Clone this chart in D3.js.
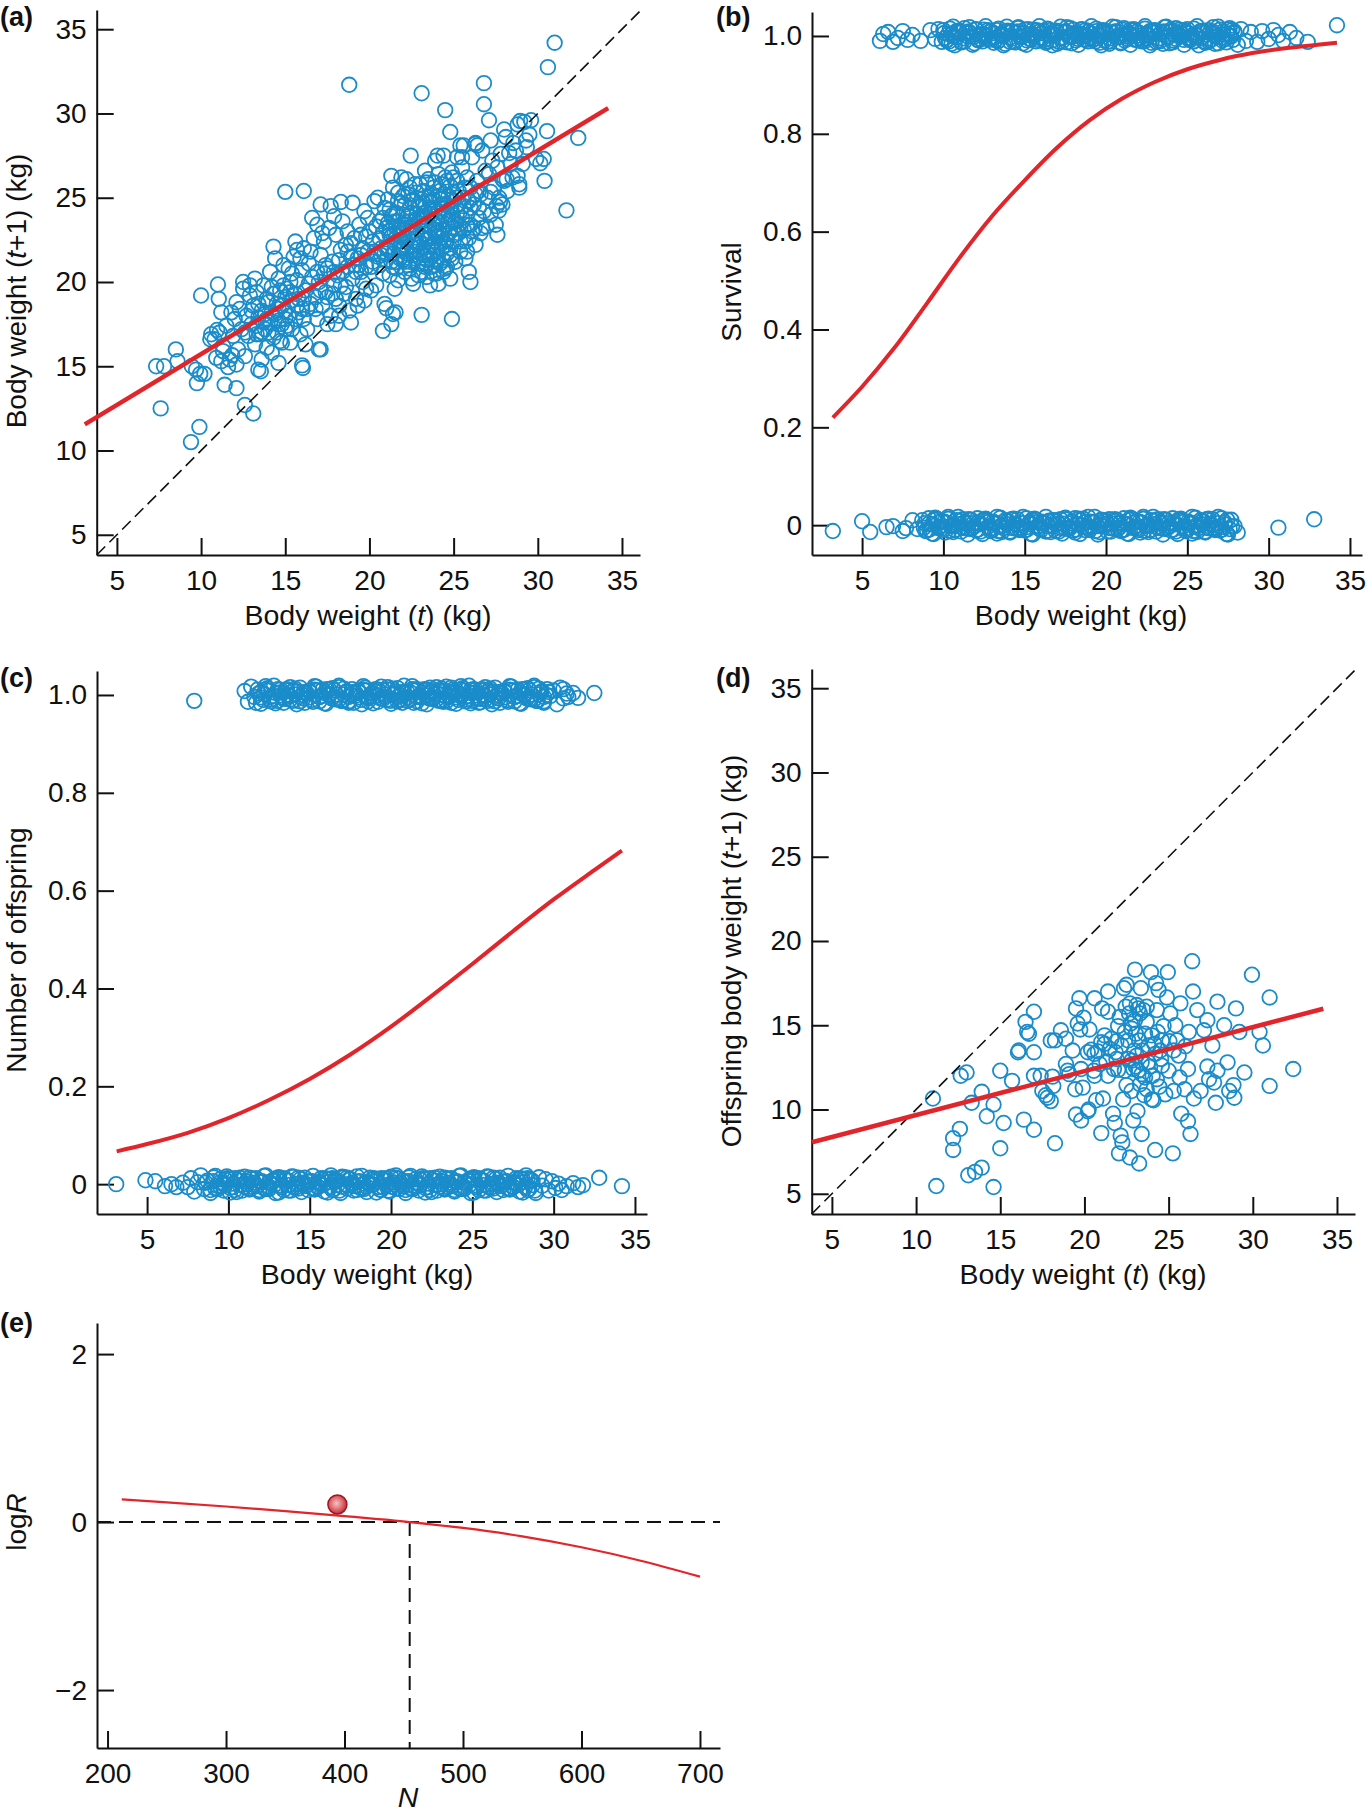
<!DOCTYPE html>
<html><head><meta charset="utf-8">
<script src="https://cdn.jsdelivr.net/npm/d3@7"></script>
<style>
body{margin:0;background:#fff;}
svg text{font-family:"Liberation Sans",Arial,Helvetica,sans-serif;fill:#111;}
.tick text{font-size:28px;}
</style></head><body>
<script>
// ---------------- DATA ----------------
// (a) body weight t vs t+1
const growthPts = [
[7.33,15.0],[7.8,15.0],[7.6,12.5],[8.5,16.0],[8.6,15.3],[9.4,10.5],[9.9,11.4],[9.45,15.0],[9.7,14.8],[9.95,14.55],[10.2,14.55],[9.75,14.0],[10.0,19.2],[11.0,19.85],[11.05,19.0],[11.2,18.2],[11.4,13.9],[12.1,13.7],[12.6,12.7],[13.1,12.2],[10.55,16.6],[10.95,17.15],[11.3,15.9],[11.6,14.95],[11.85,15.65],[12.5,20.0],[12.1,18.8],[12.9,19.8],[13.4,14.8],[13.55,14.7],[14.3,22.1],[14.6,15.2],[15.0,25.35],[15.7,21.9],[16.1,25.4],[16.0,15.05],[16.05,14.9],[16.6,23.8],[16.9,23.4],[17.0,16.0],[17.1,24.6],[17.1,16.0],[17.7,24.5],[18.3,24.75],[19.0,24.7],[18.8,31.7],[18.0,17.5],[18.2,18.0],[18.9,17.6],[19.7,18.9],[20.9,18.7],[21.0,18.45],[20.8,17.1],[21.3,17.5],[21.4,18.1],[21.55,18.2],[23.1,31.2],[23.1,18.05],[24.5,30.2],[24.9,17.8],[24.8,28.9],[24.05,27.5],[22.45,27.5],[26.0,20.0],[25.8,21.8],[26.25,23.2],[26.8,31.8],[26.8,30.55],[27.1,29.6],[26.3,28.25],[26.4,28.1],[25.4,28.1],[25.5,27.4],[26.95,23.3],[28.0,29.05],[28.8,29.35],[28.95,29.55],[29.2,29.5],[29.6,29.6],[29.5,28.75],[29.35,28.0],[29.9,27.3],[30.15,27.05],[30.35,27.3],[30.55,28.95],[30.4,26.0],[30.6,32.75],[31.0,34.2],[31.7,24.25],[32.4,28.55],[28.55,28.25],[28.3,27.65],[28.8,26.3],[28.9,25.6],[27.75,24.75],[27.7,24.25],[27.55,24.5],[27.9,26.1],[28.15,26.1],[27.2,25.35],
[10.8,16.6],[11.1,17.0],[11.3,16.2],[11.5,17.4],[11.7,15.4],[11.9,16.8],[12.0,17.8],[12.2,16.0],[12.3,18.4],[12.4,17.2],[12.6,15.6],[12.7,18.0],[12.8,16.8],[12.9,19.2],[10.6,16.9],[11.2,15.3],[11.8,18.2],[12.5,19.6],[12.1,15.1],[10.9,15.5],
[13.0,17.5],[13.1,18.6],[13.2,16.3],[13.3,19.4],[13.4,17.9],[13.5,16.9],[13.6,18.3],[13.7,19.8],[13.8,17.2],[13.9,16.1],[14.0,18.8],[14.1,20.6],[14.1,17.6],[14.2,15.8],[14.3,19.3],[14.4,18.1],[14.5,17.0],[14.6,20.2],[14.7,16.5],[14.8,18.6],[14.9,21.0],[13.2,20.2],[13.6,15.4],[14.4,21.4],[13.9,19.0],[14.7,19.5],[13.4,18.7],[14.2,18.2],[14.6,17.7],[13.8,18.1],
[15.0,18.3],[15.1,19.6],[15.1,17.4],[15.2,20.8],[15.3,16.4],[15.4,18.9],[15.5,21.5],[15.6,17.8],[15.7,20.1],[15.8,19.0],[15.9,16.9],[16.0,20.7],[16.0,18.4],[16.1,22.0],[16.2,19.5],[16.3,17.2],[16.4,21.1],[16.5,18.7],[16.6,20.3],[16.7,22.6],[16.8,19.1],[16.9,17.8],[15.3,20.0],[15.6,22.4],[16.2,16.3],[16.5,21.8],[15.0,19.1],[15.8,18.2],
[17.0,20.0],[17.1,21.6],[17.2,18.6],[17.3,22.4],[17.4,19.4],[17.5,20.8],[17.6,23.2],[17.7,18.0],[17.8,21.2],[17.9,19.8],[18.0,22.8],[18.1,20.4],[18.2,18.6],[18.3,21.9],[18.4,23.6],[18.5,19.3],[18.6,22.2],[18.7,20.9],[18.8,18.3],[18.9,21.5],[17.2,22.9],[17.5,17.5],[18.0,19.0],[18.4,20.6],[17.9,23.9],[18.7,23.0],[17.3,20.5],[18.2,21.3],
[19.0,20.2],[19.1,22.6],[19.2,19.0],[19.3,21.4],[19.4,23.4],[19.5,20.6],[19.6,22.0],[19.7,24.2],[19.8,19.6],[19.9,21.8],[20.0,23.0],[20.1,20.9],[20.2,22.4],[20.3,24.8],[20.4,19.8],[20.5,21.5],[20.6,23.6],[20.7,22.0],[20.8,20.5],[20.9,24.4],[19.3,18.6],[19.9,23.8],[20.5,25.0],[19.5,22.8],[20.2,21.2],[20.8,22.9],[19.8,20.9],[20.4,23.3],
[21.0,21.3],[21.0,23.2],[21.1,22.1],[21.2,24.3],[21.2,20.4],[21.3,22.7],[21.4,21.7],[21.4,25.6],[21.5,23.6],[21.6,20.8],[21.6,22.4],[21.7,24.8],[21.8,21.4],[21.8,23.1],[21.9,26.2],[22.0,22.0],[22.0,24.0],[22.1,20.6],[22.1,23.4],[22.2,21.7],[22.3,25.2],[22.3,22.6],[22.4,24.4],[22.5,20.2],[22.5,23.0],[22.6,21.6],[22.7,25.8],[22.7,22.4],[22.8,24.0],[22.9,21.1],[22.9,23.5],[21.3,26.3],[21.5,19.6],[22.2,26.1],[22.6,19.9],[21.9,24.7],[22.4,21.2],[21.1,24.9],
[23.0,22.3],[23.0,24.5],[23.1,20.6],[23.1,23.3],[23.2,21.6],[23.2,25.4],[23.3,22.8],[23.3,24.1],[23.4,20.3],[23.4,23.8],[23.5,21.9],[23.5,26.1],[23.6,22.6],[23.6,24.7],[23.7,20.9],[23.7,23.2],[23.8,25.6],[23.8,21.6],[23.9,22.9],[23.9,24.3],[24.0,20.5],[24.0,23.6],[24.1,26.4],[24.1,22.2],[24.2,24.9],[24.2,21.1],[24.3,23.1],[24.3,25.8],[24.4,22.4],[24.4,24.0],[24.5,20.8],[24.5,26.2],[24.6,23.4],[24.6,21.7],[24.7,25.1],[24.7,22.9],[24.8,24.4],[24.8,20.2],[24.9,23.7],[24.9,26.5],[23.3,26.6],[23.6,19.8],[24.1,19.9],[23.9,27.2],[24.4,27.5],[23.2,22.0],[23.8,23.5],[24.6,24.6],[24.3,22.0],[23.5,25.0],
[25.0,22.4],[25.0,24.8],[25.1,21.2],[25.1,23.6],[25.2,26.0],[25.3,22.9],[25.3,25.4],[25.4,21.8],[25.4,24.2],[25.5,26.8],[25.6,23.1],[25.6,25.0],[25.7,21.4],[25.8,24.0],[25.8,26.2],[25.9,22.6],[26.0,25.6],[26.0,23.4],[26.1,27.4],[26.2,24.6],[26.3,22.2],[26.4,26.0],[26.5,23.8],[26.6,25.2],[26.7,27.8],[26.8,24.2],[26.9,26.6],[25.2,27.4],[25.6,28.1],[26.3,28.2],[25.9,20.6],[26.6,22.9],
[27.0,25.0],[27.1,26.4],[27.2,24.0],[27.3,27.2],[27.4,25.6],[27.5,23.4],[27.6,26.8],[27.7,25.0],[27.8,27.6],[27.9,24.6],[28.0,26.0],[28.2,25.4],[28.4,27.0],[28.5,26.2],[28.7,27.8],[28.9,25.8],[29.1,27.0],[29.3,28.4],[27.2,28.4],[27.6,22.8],[28.1,28.6],
[21.1,21.9],[21.3,23.9],[21.5,22.3],[21.7,20.1],[21.9,22.9],[22.1,24.6],[22.3,21.0],[22.5,22.1],[22.7,23.7],[22.9,20.4],[23.0,25.8],[23.2,23.9],[23.4,21.3],[23.6,23.0],[23.8,20.5],[24.0,22.7],[24.2,25.4],[24.4,20.6],[24.6,22.5],[24.8,25.7],[24.9,21.4],[25.1,22.8],[25.3,24.6],[25.5,23.8],[25.7,22.4],[25.9,24.8],[26.1,23.0],[26.3,25.2],[26.5,24.4],[26.7,23.2],[22.0,23.1],[22.8,22.9],[23.7,22.2],[24.5,23.9],[23.1,24.9],[22.4,23.6],[23.9,21.0],[24.8,22.0],[21.6,21.2],[20.6,21.0],[20.1,19.5],[19.4,21.0],[18.6,19.7],[17.8,19.3],[16.9,20.6],[16.1,19.0],[15.4,17.2],[14.8,16.4],[14.0,17.0],[13.3,16.9],[15.9,21.4],[17.4,21.0],[18.9,22.3],[19.6,20.0],[20.9,21.7],[21.7,25.3],[22.6,24.9],[23.3,20.9],[24.1,24.2],[25.0,26.2],
[21.2,22.8],[21.4,24.0],[21.6,23.3],[21.8,22.0],[22.0,21.3],[22.2,22.4],[22.4,25.6],[22.6,23.4],[22.8,21.8],[23.0,23.8],[23.2,24.7],[23.4,22.5],[23.6,21.4],[23.8,24.9],[24.0,21.9],[24.2,23.5],[24.4,25.2],[24.6,20.9],[24.8,23.0],[25.0,25.3],[23.3,23.4],[23.7,24.0],[24.1,23.0],[22.5,24.1],[23.9,25.9],[24.7,24.0],[25.2,24.1],[23.4,21.0],[22.1,22.2],[24.4,21.3],
[14.5,18.7],[14.9,19.8],[15.2,18.0],[15.6,19.3],[14.2,19.7],[15.0,17.2],[13.7,17.6],[16.3,18.4],[15.4,20.5],[14.8,17.5],
[20.6,22.6],[20.8,23.8],[21.0,22.0],[21.2,23.0],[21.4,20.9],[21.6,24.1],[21.8,22.7],[22.0,25.1],[22.2,23.2],[22.4,20.8],[22.6,22.8],[22.8,25.3],[23.0,21.7],[23.2,23.7],[23.4,25.9],[23.6,22.1],[23.8,24.4],[24.0,21.2],[24.2,22.6],[24.4,24.6],[24.6,26.0],[24.8,21.6],[25.0,23.2],[25.2,25.0],[25.4,22.4],[25.6,24.5],[25.8,23.4],[26.0,24.4],[23.1,22.7],[23.5,24.3],[23.9,23.1],[24.3,24.4],[24.7,23.6],[22.3,23.9],[22.7,21.4],[21.5,22.9],[21.9,21.9],[23.7,25.2],[24.9,24.9],[22.9,24.6],
[20.7,21.6],[21.1,23.5],[21.3,21.2],[21.7,23.6],[22.1,21.2],[22.5,24.8],[22.9,22.2],[23.3,21.6],[23.5,23.3],[23.9,22.4],[24.1,25.1],[24.5,22.2],[24.9,24.2],[25.3,23.4],[25.7,25.6],[26.1,25.0],[26.5,25.4],[20.3,21.8],[19.8,22.7],[19.2,20.6],
[12.6,17.0],[13.0,18.3],[13.3,17.4],[13.6,17.0],[13.9,17.8],[14.3,16.7],[14.6,18.4],[15.0,17.8],[15.3,19.4],[15.7,18.6],[16.1,17.8],[16.4,19.9],[16.8,18.4],[17.1,19.5],[17.5,19.1],[17.9,20.6],[18.3,19.8],[18.7,21.8],[19.1,21.0],[19.5,21.6]
];
const growthFitX = [3.09, 34.18];
const growthFitY = [11.55, 30.32];

// (b) survival: [body weight, offset from 0/1]
const survTop = [
[6.1,-0.01],[6.3,0.004],[6.6,0.008],[6.9,-0.012],[7.2,-0.004],[7.5,0.01],[7.8,-0.008],[8.1,0.002],[8.6,-0.01],[9.2,0.012],[9.5,-0.006],[9.7,0.014],[9.9,-0.012],
[10.0,0.012],[10.2,-0.009],[10.3,0.004],[10.5,-0.016],[10.6,0.019],[10.8,-0.003],[11.0,0.009],[11.1,-0.013],[11.3,0.016],[11.5,-0.001],[11.6,0.006],[11.8,-0.018],[12.0,0.014],[12.1,-0.007],[12.3,0.001],[12.4,-0.011],[12.6,0.02],[12.8,-0.005],[12.9,0.01],[13.1,-0.014],
[13.3,0.012],[13.4,-0.009],[13.6,0.004],[13.8,-0.016],[13.9,0.019],[14.1,-0.003],[14.2,0.009],[14.4,-0.013],[14.6,0.016],[14.7,-0.001],[14.9,0.006],[15.1,-0.018],[15.2,0.014],[15.4,-0.007],[15.5,0.001],[15.7,-0.011],[15.9,0.02],[16.0,-0.005],[16.2,0.01],[16.3,-0.014],
[16.5,0.012],[16.7,-0.009],[16.8,0.004],[17.0,-0.016],[17.2,0.019],[17.3,-0.003],[17.5,0.009],[17.6,-0.013],[17.8,0.016],[18.0,-0.001],[18.1,0.006],[18.3,-0.018],[18.5,0.014],[18.6,-0.007],[18.8,0.001],[18.9,-0.011],[19.1,0.02],[19.3,-0.005],[19.4,0.01],[19.6,-0.014],
[19.8,0.012],[19.9,-0.009],[20.1,0.004],[20.2,-0.016],[20.4,0.019],[20.6,-0.003],[20.7,0.009],[20.9,-0.013],[21.1,0.016],[21.2,-0.001],[21.4,0.006],[21.5,-0.018],[21.7,0.014],[21.9,-0.007],[22.0,0.001],[22.2,-0.011],[22.4,0.02],[22.5,-0.005],[22.7,0.01],[22.8,-0.014],
[23.0,0.012],[23.2,-0.009],[23.3,0.004],[23.5,-0.016],[23.7,0.019],[23.8,-0.003],[24.0,0.009],[24.1,-0.013],[24.3,0.016],[24.5,-0.001],[24.6,0.006],[24.8,-0.018],[25.0,0.014],[25.1,-0.007],[25.3,0.001],[25.4,-0.011],[25.6,0.02],[25.8,-0.005],[25.9,0.01],[26.1,-0.014],
[26.3,0.012],[26.4,-0.009],[26.6,0.004],[26.7,-0.016],[26.9,0.019],[27.1,-0.003],[27.2,0.009],[27.4,-0.013],[27.6,0.016],[27.7,-0.001],[27.9,0.006],[28.1,-0.018],[28.3,0.014],
[28.6,-0.01],[28.9,0.008],[29.3,-0.012],[29.6,0.01],[30.0,-0.006],[30.3,0.012],[30.6,0.002],[30.9,-0.01],[31.3,0.008],[31.7,-0.004],[32.4,-0.012],[34.2,0.022],
[10.1,-0.004],[10.4,0.015],[10.7,-0.019],[11.0,0.007],[11.3,-0.011],[11.6,0.018],[11.9,-0.015],[12.2,0.003],[12.5,0.013],[12.8,-0.008],
[13.1,-0.004],[13.4,0.015],[13.7,-0.019],[14.0,0.007],[14.3,-0.011],[14.6,0.018],[14.9,-0.015],[15.2,0.003],[15.5,0.013],[15.8,-0.008],
[16.1,-0.004],[16.4,0.015],[16.7,-0.019],[17.0,0.007],[17.3,-0.011],[17.6,0.018],[17.9,-0.015],[18.2,0.003],[18.5,0.013],[18.8,-0.008],
[19.1,-0.004],[19.4,0.015],[19.7,-0.019],[20.0,0.007],[20.3,-0.011],[20.6,0.018],[20.9,-0.015],[21.2,0.003],[21.5,0.013],[21.8,-0.008],
[22.1,-0.004],[22.4,0.015],[22.7,-0.019],[23.0,0.007],[23.3,-0.011],[23.6,0.018],[23.9,-0.015],[24.2,0.003],[24.5,0.013],[24.8,-0.008],
[25.1,-0.004],[25.4,0.015],[25.7,-0.019],[26.0,0.007],[26.3,-0.011],[26.6,0.018],[26.9,-0.015],[27.2,0.003],[27.5,0.013],[27.8,-0.008]
];
const survTopDense = [
[10.05,0.006],[10.35,-0.011],[10.65,0.0],[10.95,0.011],[11.25,-0.005],[11.55,0.009],[11.85,-0.002],[12.15,-0.009],[12.45,0.004],[12.75,0.012],
[13.05,0.006],[13.35,-0.011],[13.65,0.0],[13.95,0.011],[14.25,-0.005],[14.55,0.009],[14.85,-0.002],[15.15,-0.009],[15.45,0.004],[15.75,0.012],
[16.05,0.006],[16.35,-0.011],[16.65,0.0],[16.95,0.011],[17.25,-0.005],[17.55,0.009],[17.85,-0.002],[18.15,-0.009],[18.45,0.004],[18.75,0.012],
[19.05,0.006],[19.35,-0.011],[19.65,0.0],[19.95,0.011],[20.25,-0.005],[20.55,0.009],[20.85,-0.002],[21.15,-0.009],[21.45,0.004],[21.75,0.012],
[22.05,0.006],[22.35,-0.011],[22.65,0.0],[22.95,0.011],[23.25,-0.005],[23.55,0.009],[23.85,-0.002],[24.15,-0.009],[24.45,0.004],[24.75,0.012],
[25.05,0.006],[25.35,-0.011],[25.65,0.0],[25.95,0.011],[26.25,-0.005],[26.55,0.009],[26.85,-0.002],[27.15,-0.009],[27.45,0.004],[27.75,0.012],
[10.2,-0.008],[10.5,0.003],[10.8,0.01],[11.1,-0.012],[11.4,0.007],[11.7,-0.001],[12.0,0.013],[12.3,-0.006],[12.6,0.0],[12.9,0.009],
[13.2,-0.008],[13.5,0.003],[13.8,0.01],[14.1,-0.012],[14.4,0.007],[14.7,-0.001],[15.0,0.013],[15.3,-0.006],[15.6,0.0],[15.9,0.009],
[16.2,-0.008],[16.5,0.003],[16.8,0.01],[17.1,-0.012],[17.4,0.007],[17.7,-0.001],[18.0,0.013],[18.3,-0.006],[18.6,0.0],[18.9,0.009],
[19.2,-0.008],[19.5,0.003],[19.8,0.01],[20.1,-0.012],[20.4,0.007],[20.7,-0.001],[21.0,0.013],[21.3,-0.006],[21.6,0.0],[21.9,0.009],
[22.2,-0.008],[22.5,0.003],[22.8,0.01],[23.1,-0.012],[23.4,0.007],[23.7,-0.001],[24.0,0.013],[24.3,-0.006],[24.6,0.0],[24.9,0.009],
[25.2,-0.008],[25.5,0.003],[25.8,0.01],[26.1,-0.012],[26.4,0.007],[26.7,-0.001],[27.0,0.013],[27.3,-0.006],[27.6,0.0],[27.9,0.009]
];
const survBottom = [
[3.2,-0.012],[5.0,0.008],[5.5,-0.014],[6.5,-0.004],[6.9,-0.002],[7.5,-0.012],[7.7,-0.006],[8.1,0.01],[8.4,-0.008],
[8.7,0.01],[8.9,-0.012],[9.1,0.003],[9.3,-0.017],[9.5,0.015],[9.7,-0.006],[9.9,0.008],[10.1,-0.015],[10.3,0.013],[10.5,0.0],[10.7,-0.01],[10.9,0.017],[11.1,-0.004],[11.3,0.006],[11.5,-0.019],[11.7,0.011],[11.9,-0.002],[12.1,0.004],[12.3,-0.013],[12.5,0.009],
[12.7,0.01],[12.9,-0.012],[13.1,0.003],[13.3,-0.017],[13.5,0.015],[13.7,-0.006],[13.9,0.008],[14.1,-0.015],[14.3,0.013],[14.5,0.0],[14.7,-0.01],[14.9,0.017],[15.1,-0.004],[15.3,0.006],[15.5,-0.019],[15.7,0.011],[15.9,-0.002],[16.1,0.004],[16.3,-0.013],[16.5,0.009],
[16.7,0.01],[16.9,-0.012],[17.1,0.003],[17.3,-0.017],[17.5,0.015],[17.7,-0.006],[17.9,0.008],[18.1,-0.015],[18.3,0.013],[18.5,0.0],[18.7,-0.01],[18.9,0.017],[19.1,-0.004],[19.3,0.006],[19.5,-0.019],[19.7,0.011],[19.9,-0.002],[20.1,0.004],[20.3,-0.013],[20.5,0.009],
[20.7,0.01],[20.9,-0.012],[21.1,0.003],[21.3,-0.017],[21.5,0.015],[21.7,-0.006],[21.9,0.008],[22.1,-0.015],[22.3,0.013],[22.5,0.0],[22.7,-0.01],[22.9,0.017],[23.1,-0.004],[23.3,0.006],[23.5,-0.019],[23.7,0.011],[23.9,-0.002],[24.1,0.004],[24.3,-0.013],[24.5,0.009],
[24.7,0.01],[24.9,-0.012],[25.1,0.003],[25.3,-0.017],[25.5,0.015],[25.7,-0.006],[25.9,0.008],[26.1,-0.015],[26.3,0.013],[26.5,0.0],[26.7,-0.01],[26.9,0.017],[27.1,-0.004],[27.3,0.006],[27.5,-0.019],[27.7,0.011],[27.9,-0.002],
[28.1,-0.015],[27.6,-0.008],[30.6,-0.005],[32.8,0.012],
[8.8,-0.005],[9.1,0.014],[9.4,-0.018],[9.7,0.006],[10.0,-0.01],[10.3,0.017],[10.6,-0.014],[10.9,0.002],[11.2,0.012],[11.5,-0.007],
[11.8,-0.005],[12.1,0.014],[12.4,-0.018],[12.7,0.006],[13.0,-0.01],[13.3,0.017],[13.6,-0.014],[13.9,0.002],[14.2,0.012],[14.5,-0.007],
[14.8,-0.005],[15.1,0.014],[15.4,-0.018],[15.7,0.006],[16.0,-0.01],[16.3,0.017],[16.6,-0.014],[16.9,0.002],[17.2,0.012],[17.5,-0.007],
[17.8,-0.005],[18.1,0.014],[18.4,-0.018],[18.7,0.006],[19.0,-0.01],[19.3,0.017],[19.6,-0.014],[19.9,0.002],[20.2,0.012],[20.5,-0.007],
[20.8,-0.005],[21.1,0.014],[21.4,-0.018],[21.7,0.006],[22.0,-0.01],[22.3,0.017],[22.6,-0.014],[22.9,0.002],[23.2,0.012],[23.5,-0.007],
[23.8,-0.005],[24.1,0.014],[24.4,-0.018],[24.7,0.006],[25.0,-0.01],[25.3,0.017],[25.6,-0.014],[25.9,0.002],[26.2,0.012],[26.5,-0.007],[26.8,-0.005],[27.1,0.014],[27.4,-0.018]
];
const survBottomDense = [
[8.85,0.004],[9.15,-0.009],[9.45,0.011],[9.75,-0.003],[10.05,0.007],[10.35,-0.012],[10.65,0.0],[10.95,0.009],[11.25,-0.006],[11.55,0.012],
[11.85,0.004],[12.15,-0.009],[12.45,0.011],[12.75,-0.003],[13.05,0.007],[13.35,-0.012],[13.65,0.0],[13.95,0.009],[14.25,-0.006],[14.55,0.012],
[14.85,0.004],[15.15,-0.009],[15.45,0.011],[15.75,-0.003],[16.05,0.007],[16.35,-0.012],[16.65,0.0],[16.95,0.009],[17.25,-0.006],[17.55,0.012],
[17.85,0.004],[18.15,-0.009],[18.45,0.011],[18.75,-0.003],[19.05,0.007],[19.35,-0.012],[19.65,0.0],[19.95,0.009],[20.25,-0.006],[20.55,0.012],
[20.85,0.004],[21.15,-0.009],[21.45,0.011],[21.75,-0.003],[22.05,0.007],[22.35,-0.012],[22.65,0.0],[22.95,0.009],[23.25,-0.006],[23.55,0.012],
[23.85,0.004],[24.15,-0.009],[24.45,0.011],[24.75,-0.003],[25.05,0.007],[25.35,-0.012],[25.65,0.0],[25.95,0.009],[26.25,-0.006],[26.55,0.012],[26.85,0.004],[27.15,-0.009],[27.45,0.011],[27.75,-0.003],
[9.0,-0.011],[9.3,0.002],[9.6,0.013],[9.9,-0.007],[10.2,0.005],[10.5,-0.002],[10.8,0.01],[11.1,-0.013],[11.4,0.003],[11.7,-0.008],
[12.0,-0.011],[12.3,0.002],[12.6,0.013],[12.9,-0.007],[13.2,0.005],[13.5,-0.002],[13.8,0.01],[14.1,-0.013],[14.4,0.003],[14.7,-0.008],
[15.0,-0.011],[15.3,0.002],[15.6,0.013],[15.9,-0.007],[16.2,0.005],[16.5,-0.002],[16.8,0.01],[17.1,-0.013],[17.4,0.003],[17.7,-0.008],
[18.0,-0.011],[18.3,0.002],[18.6,0.013],[18.9,-0.007],[19.2,0.005],[19.5,-0.002],[19.8,0.01],[20.1,-0.013],[20.4,0.003],[20.7,-0.008],
[21.0,-0.011],[21.3,0.002],[21.6,0.013],[21.9,-0.007],[22.2,0.005],[22.5,-0.002],[22.8,0.01],[23.1,-0.013],[23.4,0.003],[23.7,-0.008],
[24.0,-0.011],[24.3,0.002],[24.6,0.013],[24.9,-0.007],[25.2,0.005],[25.5,-0.002],[25.8,0.01],[26.1,-0.013],[26.4,0.003],[26.7,-0.008],[27.0,-0.011],[27.3,0.002]
];
const survFitX = [3.2,5,7,9,11,13,15,17,19,21,23,25,27,29,31,33,34.2];
const survFitY = [0.22,0.283,0.363,0.454,0.547,0.632,0.705,0.772,0.828,0.872,0.906,0.932,0.951,0.965,0.975,0.982,0.986];

// (c) number of offspring: [body weight, offset from 0/1]
const fecTop = [
[7.9,-0.012],
[11.0,0.008],[11.2,-0.014],[11.4,0.017],[11.6,-0.004],[11.8,0.011],[12.0,-0.018],[12.2,0.002],[12.4,0.014],[12.6,-0.009],[12.8,0.019],[13.0,-0.012],[13.2,0.005],[13.4,-0.016],[13.6,0.012],[13.8,-0.002],[14.0,0.009],[14.2,-0.019],[14.4,0.015],[14.6,-0.007],[14.8,0.003],
[15.0,0.008],[15.2,-0.014],[15.4,0.017],[15.6,-0.004],[15.8,0.011],[16.0,-0.018],[16.2,0.002],[16.4,0.014],[16.6,-0.009],[16.8,0.019],[17.0,-0.012],[17.2,0.005],[17.4,-0.016],[17.6,0.012],[17.8,-0.002],[18.0,0.009],[18.2,-0.019],[18.4,0.015],[18.6,-0.007],[18.8,0.003],
[19.0,0.008],[19.2,-0.014],[19.4,0.017],[19.6,-0.004],[19.8,0.011],[20.0,-0.018],[20.2,0.002],[20.4,0.014],[20.6,-0.009],[20.8,0.019],[21.0,-0.012],[21.2,0.005],[21.4,-0.016],[21.6,0.012],[21.8,-0.002],[22.0,0.009],[22.2,-0.019],[22.4,0.015],[22.6,-0.007],[22.8,0.003],
[23.0,0.008],[23.2,-0.014],[23.4,0.017],[23.6,-0.004],[23.8,0.011],[24.0,-0.018],[24.2,0.002],[24.4,0.014],[24.6,-0.009],[24.8,0.019],[25.0,-0.012],[25.2,0.005],[25.4,-0.016],[25.6,0.012],[25.8,-0.002],[26.0,0.009],[26.2,-0.019],[26.4,0.015],[26.6,-0.007],[26.8,0.003],
[27.0,0.008],[27.2,-0.014],[27.4,0.017],[27.6,-0.004],[27.8,0.011],[28.0,-0.018],[28.2,0.002],[28.4,0.014],[28.6,-0.009],[28.8,0.019],[29.0,-0.012],[29.2,0.005],[29.4,-0.016],[29.6,0.012],[29.8,-0.002],[30.0,0.009],[30.2,-0.019],[30.4,0.015],[30.6,-0.007],[30.8,0.003],
[20.1,0.0],[20.5,-0.01],[21.3,0.012],[21.9,-0.005],[22.5,0.006],[23.1,-0.012],[23.7,0.015],[24.3,-0.003],[24.9,0.01],[25.5,-0.015],[26.1,0.004],
[31.2,0.004],[31.5,-0.006],[32.5,0.004],
[11.7,-0.016],[12.0,0.006],[12.3,0.018],[12.6,-0.004],[12.9,-0.017],[13.2,0.011],[13.5,-0.008],[13.8,0.016],[14.1,0.001],[14.4,-0.013],
[14.7,-0.016],[15.0,0.006],[15.3,0.018],[15.6,-0.004],[15.9,-0.017],[16.2,0.011],[16.5,-0.008],[16.8,0.016],[17.1,0.001],[17.4,-0.013],
[17.7,-0.016],[18.0,0.006],[18.3,0.018],[18.6,-0.004],[18.9,-0.017],[19.2,0.011],[19.5,-0.008],[19.8,0.016],[20.1,0.001],[20.4,-0.013],
[20.7,-0.016],[21.0,0.006],[21.3,0.018],[21.6,-0.004],[21.9,-0.017],[22.2,0.011],[22.5,-0.008],[22.8,0.016],[23.1,0.001],[23.4,-0.013],
[23.7,-0.016],[24.0,0.006],[24.3,0.018],[24.6,-0.004],[24.9,-0.017],[25.2,0.011],[25.5,-0.008],[25.8,0.016],[26.1,0.001],[26.4,-0.013],
[26.7,-0.016],[27.0,0.006],[27.3,0.018],[27.6,-0.004],[27.9,-0.017],[28.2,0.011],[28.5,-0.008],[28.8,0.016],[29.1,0.001],[29.4,-0.013],[30.6,0.012],[30.9,-0.004]
];
const fecTopDense = [
[11.85,0.003],[12.15,-0.01],[12.45,0.009],[12.75,-0.002],[13.05,0.012],[13.35,-0.007],[13.65,0.001],[13.95,-0.012],[14.25,0.007],[14.55,0.0],
[14.85,0.003],[15.15,-0.01],[15.45,0.009],[15.75,-0.002],[16.05,0.012],[16.35,-0.007],[16.65,0.001],[16.95,-0.012],[17.25,0.007],[17.55,0.0],
[17.85,0.003],[18.15,-0.01],[18.45,0.009],[18.75,-0.002],[19.05,0.012],[19.35,-0.007],[19.65,0.001],[19.95,-0.012],[20.25,0.007],[20.55,0.0],
[20.85,0.003],[21.15,-0.01],[21.45,0.009],[21.75,-0.002],[22.05,0.012],[22.35,-0.007],[22.65,0.001],[22.95,-0.012],[23.25,0.007],[23.55,0.0],
[23.85,0.003],[24.15,-0.01],[24.45,0.009],[24.75,-0.002],[25.05,0.012],[25.35,-0.007],[25.65,0.001],[25.95,-0.012],[26.25,0.007],[26.55,0.0],
[26.85,0.003],[27.15,-0.01],[27.45,0.009],[27.75,-0.002],[28.05,0.012],[28.35,-0.007],[28.65,0.001],[28.95,-0.012],[29.25,0.007],[29.55,0.0],
[12.0,-0.005],[12.3,0.011],[12.6,-0.013],[12.9,0.004],[13.2,-0.001],[13.5,0.01],[13.8,-0.009],[14.1,0.013],[14.4,-0.004],[14.7,0.006],
[15.0,-0.005],[15.3,0.011],[15.6,-0.013],[15.9,0.004],[16.2,-0.001],[16.5,0.01],[16.8,-0.009],[17.1,0.013],[17.4,-0.004],[17.7,0.006],
[18.0,-0.005],[18.3,0.011],[18.6,-0.013],[18.9,0.004],[19.2,-0.001],[19.5,0.01],[19.8,-0.009],[20.1,0.013],[20.4,-0.004],[20.7,0.006],
[21.0,-0.005],[21.3,0.011],[21.6,-0.013],[21.9,0.004],[22.2,-0.001],[22.5,0.01],[22.8,-0.009],[23.1,0.013],[23.4,-0.004],[23.7,0.006],
[24.0,-0.005],[24.3,0.011],[24.6,-0.013],[24.9,0.004],[25.2,-0.001],[25.5,0.01],[25.8,-0.009],[26.1,0.013],[26.4,-0.004],[26.7,0.006],
[27.0,-0.005],[27.3,0.011],[27.6,-0.013],[27.9,0.004],[28.2,-0.001],[28.5,0.01],[28.8,-0.009],[29.1,0.013],[29.4,-0.004],[29.7,0.006]
];
const fecBottom = [
[3.1,0.0],[4.9,0.008],[5.5,0.006],[6.1,-0.004],[6.5,0.0],[6.8,-0.006],[7.2,0.003],
[7.5,-0.006],[7.7,0.012],[7.9,-0.015],[8.1,0.004],[8.3,0.018],[8.5,-0.01],[8.7,0.007],[8.9,-0.018],[9.1,0.014],[9.3,-0.003],[9.5,0.01],[9.7,-0.013],[9.9,0.016],[10.1,-0.008],[10.3,0.001],[10.5,-0.016],[10.7,0.013],[10.9,-0.001],[11.1,0.006],[11.3,-0.011],
[11.5,-0.006],[11.7,0.012],[11.9,-0.015],[12.1,0.004],[12.3,0.018],[12.5,-0.01],[12.7,0.007],[12.9,-0.018],[13.1,0.014],[13.3,-0.003],[13.5,0.01],[13.7,-0.013],[13.9,0.016],[14.1,-0.008],[14.3,0.001],[14.5,-0.016],[14.7,0.013],[14.9,-0.001],[15.1,0.006],[15.3,-0.011],
[15.5,-0.006],[15.7,0.012],[15.9,-0.015],[16.1,0.004],[16.3,0.018],[16.5,-0.01],[16.7,0.007],[16.9,-0.018],[17.1,0.014],[17.3,-0.003],[17.5,0.01],[17.7,-0.013],[17.9,0.016],[18.1,-0.008],[18.3,0.001],[18.5,-0.016],[18.7,0.013],[18.9,-0.001],[19.1,0.006],[19.3,-0.011],
[19.5,-0.006],[19.7,0.012],[19.9,-0.015],[20.1,0.004],[20.3,0.018],[20.5,-0.01],[20.7,0.007],[20.9,-0.018],[21.1,0.014],[21.3,-0.003],[21.5,0.01],[21.7,-0.013],[21.9,0.016],[22.1,-0.008],[22.3,0.001],[22.5,-0.016],[22.7,0.013],[22.9,-0.001],[23.1,0.006],[23.3,-0.011],
[23.5,-0.006],[23.7,0.012],[23.9,-0.015],[24.1,0.004],[24.3,0.018],[24.5,-0.01],[24.7,0.007],[24.9,-0.018],[25.1,0.014],[25.3,-0.003],[25.5,0.01],[25.7,-0.013],[25.9,0.016],[26.1,-0.008],[26.3,0.001],[26.5,-0.016],[26.7,0.013],[26.9,-0.001],[27.1,0.006],[27.3,-0.011],
[27.5,-0.006],[27.7,0.012],[27.9,-0.015],[28.1,0.004],[28.3,0.018],[28.5,-0.01],[28.7,0.007],[28.9,-0.018],[29.1,0.014],[29.3,-0.003],[29.5,0.01],[29.7,-0.013],[29.9,0.006],[30.1,-0.008],[30.3,0.001],[30.5,-0.012],
[30.8,-0.004],[31.2,0.002],[31.5,-0.006],[31.8,-0.002],[32.8,0.013],[34.2,-0.004],
[8.6,0.003],[8.9,-0.012],[9.2,0.017],[9.5,-0.005],[9.8,0.009],[10.1,-0.017],[10.4,0.012],[10.7,-0.002],[11.0,0.015],[11.3,-0.009],
[11.6,0.003],[11.9,-0.012],[12.2,0.017],[12.5,-0.005],[12.8,0.009],[13.1,-0.017],[13.4,0.012],[13.7,-0.002],[14.0,0.015],[14.3,-0.009],
[14.6,0.003],[14.9,-0.012],[15.2,0.017],[15.5,-0.005],[15.8,0.009],[16.1,-0.017],[16.4,0.012],[16.7,-0.002],[17.0,0.015],[17.3,-0.009],
[17.6,0.003],[17.9,-0.012],[18.2,0.017],[18.5,-0.005],[18.8,0.009],[19.1,-0.017],[19.4,0.012],[19.7,-0.002],[20.0,0.015],[20.3,-0.009],
[20.6,0.003],[20.9,-0.012],[21.2,0.017],[21.5,-0.005],[21.8,0.009],[22.1,-0.017],[22.4,0.012],[22.7,-0.002],[23.0,0.015],[23.3,-0.009],
[23.6,0.003],[23.9,-0.012],[24.2,0.017],[24.5,-0.005],[24.8,0.009],[25.1,-0.017],[25.4,0.012],[25.7,-0.002],[26.0,0.015],[26.3,-0.009],
[26.6,0.003],[26.9,-0.012],[27.2,0.017],[27.5,-0.005],[27.8,0.009],[28.1,-0.017],[28.4,0.012],[28.7,-0.002]
];
const fecBottomDense = [
[9.05,0.006],[9.35,-0.01],[9.65,0.002],[9.95,0.012],[10.25,-0.006],[10.55,0.009],[10.85,-0.013],[11.15,0.0],[11.45,0.011],[11.75,-0.004],
[12.05,0.006],[12.35,-0.01],[12.65,0.002],[12.95,0.012],[13.25,-0.006],[13.55,0.009],[13.85,-0.013],[14.15,0.0],[14.45,0.011],[14.75,-0.004],
[15.05,0.006],[15.35,-0.01],[15.65,0.002],[15.95,0.012],[16.25,-0.006],[16.55,0.009],[16.85,-0.013],[17.15,0.0],[17.45,0.011],[17.75,-0.004],
[18.05,0.006],[18.35,-0.01],[18.65,0.002],[18.95,0.012],[19.25,-0.006],[19.55,0.009],[19.85,-0.013],[20.15,0.0],[20.45,0.011],[20.75,-0.004],
[21.05,0.006],[21.35,-0.01],[21.65,0.002],[21.95,0.012],[22.25,-0.006],[22.55,0.009],[22.85,-0.013],[23.15,0.0],[23.45,0.011],[23.75,-0.004],
[24.05,0.006],[24.35,-0.01],[24.65,0.002],[24.95,0.012],[25.25,-0.006],[25.55,0.009],[25.85,-0.013],[26.15,0.0],[26.45,0.011],[26.75,-0.004],
[27.05,0.006],[27.35,-0.01],[27.65,0.002],[27.95,0.012],[28.25,-0.006],[28.55,0.009],[28.85,-0.013],
[9.2,-0.009],[9.5,0.004],[9.8,-0.002],[10.1,0.01],[10.4,-0.012],[10.7,0.007],[11.0,-0.005],[11.3,0.013],[11.6,-0.001],[11.9,0.005],
[12.2,-0.009],[12.5,0.004],[12.8,-0.002],[13.1,0.01],[13.4,-0.012],[13.7,0.007],[14.0,-0.005],[14.3,0.013],[14.6,-0.001],[14.9,0.005],
[15.2,-0.009],[15.5,0.004],[15.8,-0.002],[16.1,0.01],[16.4,-0.012],[16.7,0.007],[17.0,-0.005],[17.3,0.013],[17.6,-0.001],[17.9,0.005],
[18.2,-0.009],[18.5,0.004],[18.8,-0.002],[19.1,0.01],[19.4,-0.012],[19.7,0.007],[20.0,-0.005],[20.3,0.013],[20.6,-0.001],[20.9,0.005],
[21.2,-0.009],[21.5,0.004],[21.8,-0.002],[22.1,0.01],[22.4,-0.012],[22.7,0.007],[23.0,-0.005],[23.3,0.013],[23.6,-0.001],[23.9,0.005],
[24.2,-0.009],[24.5,0.004],[24.8,-0.002],[25.1,0.01],[25.4,-0.012],[25.7,0.007],[26.0,-0.005],[26.3,0.013],[26.6,-0.001],[26.9,0.005],
[27.2,-0.009],[27.5,0.004],[27.8,-0.002],[28.1,0.01],[28.4,-0.012]
];
const fecFitX = [3.13,5,7.5,10,12.5,15,17.5,20,22.5,25,27.5,30,32.5,34.2];
const fecFitY = [0.067,0.082,0.105,0.135,0.172,0.215,0.265,0.322,0.385,0.45,0.517,0.582,0.642,0.682];

// (d) offspring body weight
const offspringPts = [
[11.0,10.65],[11.2,5.46],[12.2,8.3],[12.2,7.6],[12.6,8.85],[12.65,12.0],[13.0,12.2],[13.1,6.1],[13.3,10.4],[13.5,6.3],[13.9,6.55],[13.9,11.05],[14.2,9.6],[14.6,10.3],[14.6,5.4],[15.0,12.3],[15.0,7.7],[15.2,9.2],[15.7,11.7],[16.1,13.5],[16.05,13.4],[16.4,9.4],[16.5,15.2],[16.6,14.6],[16.7,14.5],[17.0,12.0],[17.0,13.4],[17.0,15.8],[17.0,8.8],[17.4,12.0],[17.5,11.1],[17.7,10.85],[17.8,10.7],[18.0,10.5],[18.1,11.95],[18.0,14.1],[18.25,14.1],[18.25,8.0],[18.15,11.4],[18.6,14.7],[18.9,14.2],[18.9,12.7],[19.0,12.3],[19.1,12.1],[19.3,13.5],[19.45,11.2],[19.5,9.7],[19.5,16.0],[19.7,16.6],[19.6,15.1],[19.75,14.75],[19.8,9.35],[19.9,11.3],[19.95,15.45],[20.2,13.4],[20.2,9.9],[20.25,10.0],[20.3,14.75],[20.4,13.55],[20.55,12.3],[20.6,16.6],[20.6,12.0],[20.7,10.55],[20.8,13.45],[21.0,14.0],[21.0,8.6],[21.05,16.0],[21.1,10.65],[21.2,13.9],[21.3,12.85],[21.4,17.0],[21.4,15.8],[21.4,12.0],[21.6,14.2],[21.7,9.75],[21.75,12.4],[21.8,9.2],[21.85,13.4],[21.9,14.05],[22.0,14.95],[22.0,12.35],[22.05,7.4],[22.1,15.5],[22.15,8.45],[22.25,8.05],[22.3,10.6],[22.35,17.2],[22.4,12.3],[22.45,16.1],[22.5,17.4],[22.5,11.45],[22.6,14.1],[22.65,15.7],[22.7,7.15],[22.75,15.1],[22.8,12.9],[22.8,11.1],[22.9,9.35],[22.95,13.5],[23.0,18.3],[23.05,12.55],[23.05,14.5],[23.1,16.2],[23.15,9.9],[23.2,12.3],[23.25,6.8],[23.25,14.1],[23.3,15.7],[23.35,17.2],[23.4,8.55],[23.4,12.8],[23.45,13.5],[23.55,10.85],[23.6,11.9],[23.7,16.1],[23.7,15.2],[23.8,13.8],[23.9,12.55],[23.95,18.15],[24.0,10.6],[24.05,12.0],[24.1,10.55],[24.15,13.9],[24.2,7.6],[24.25,17.5],[24.3,15.9],[24.35,14.6],[24.4,17.1],[24.45,11.35],[24.5,13.5],[24.55,13.0],[24.6,14.1],[24.7,14.95],[24.8,10.9],[24.9,16.65],[24.95,18.15],[25.0,12.3],[25.05,14.05],[25.1,15.7],[25.25,7.4],[25.3,13.5],[25.3,11.1],[25.4,15.0],[25.5,14.1],[25.65,11.9],[25.7,16.3],[25.75,9.75],[25.95,11.2],[26.0,13.75],[26.15,9.3],[26.15,12.4],[26.2,14.6],[26.3,8.55],[26.4,18.8],[26.45,17.0],[26.5,10.65],[26.7,15.9],[26.9,11.1],[27.1,14.7],[27.3,15.3],[27.3,12.55],[27.4,11.8],[27.6,13.8],[27.7,11.6],[27.8,10.4],[27.9,16.4],[27.9,12.3],[28.3,15.0],[28.5,12.8],[28.6,11.1],[28.85,11.45],[28.9,10.7],[29.0,16.0],[29.2,14.6],[29.5,12.2],[29.95,18.0],[30.4,14.6],[30.6,13.8],[31.0,16.65],[31.0,11.4],[32.4,12.4],
[22.8,14.8],[23.1,13.2],[23.4,12.1],[23.6,14.5],[23.0,15.3],[22.6,13.0],[23.8,12.8],[24.2,13.3],[22.2,13.8],[23.3,11.5],[24.0,14.4],[22.9,12.4],[23.5,15.9],[21.9,13.0],[24.6,12.6],[23.7,11.2],[22.4,14.6],[21.5,13.6],[20.9,12.7],[25.6,13.2],[24.3,11.8],[23.2,16.0],[22.7,16.3],[21.2,14.4],[20.6,13.3],[19.8,12.4]
];
const offspringFitX = [3.82, 34.19];
const offspringFitY = [8.06, 15.98];

// (e) population growth
const popN = [212,250,300,350,400,455,500,550,600,650,700];
const popLogR = [0.27,0.235,0.185,0.13,0.07,0.0,-0.07,-0.17,-0.3,-0.46,-0.65];
const obsPoint = {N: 394, logR: 0.21};
const equilibriumN = 455;

// tick labels
const weightTicks = [5,10,15,20,25,30,35];
const probTicks = [0,0.2,0.4,0.6,0.8,1.0];
const nTicks = [200,300,400,500,600,700];
const logRTicks = [-2,0,2];

// ---------------- DRAW ----------------
const BLUE = "#1a8cca", RED = "#e2242b", INK = "#111";
const svg = d3.select("body").append("svg").attr("width",1371).attr("height",1817);

function axes(x, y, xt, yt, yfmt) {
  const g = svg.append("g");
  const xa = g.append("g").attr("transform",`translate(0,${y.range()[0]})`)
    .call(d3.axisBottom(x).tickValues(xt).tickSizeInner(-17).tickSizeOuter(0).tickPadding(15).tickFormat(d3.format("d")));
  const ya = g.append("g").attr("transform",`translate(${x.range()[0]},0)`)
    .call(d3.axisLeft(y).tickValues(yt).tickSizeInner(-17).tickSizeOuter(0).tickPadding(10).tickFormat(yfmt || d3.format("d")));
  [xa, ya].forEach(a => {
    a.attr("font-family", null).attr("font-size", null);
    a.selectAll("path, line").attr("stroke", INK).attr("stroke-width", 2);
  });
  return g;
}
function label(txt, x, y) {
  svg.append("text").attr("x", x).attr("y", y).style("font-size","27px").style("font-weight","bold").text(txt);
}
function titleX(parts, cx, y) {
  const t = svg.append("text").attr("x", cx).attr("y", y).attr("text-anchor","middle").style("font-size","28.5px");
  parts.forEach(p => t.append("tspan").style("font-style", p[1] ? "italic" : "normal").text(p[0]));
}
function titleY(parts, x, cy) {
  const t = svg.append("text").attr("transform",`translate(${x},${cy}) rotate(-90)`).attr("text-anchor","middle").style("font-size","28px");
  parts.forEach(p => t.append("tspan").style("font-style", p[1] ? "italic" : "normal").text(p[0]));
}
function rings(g, data, x, y) {
  g.append("g").selectAll("circle").data(data).join("circle")
    .attr("cx", d => x(d[0])).attr("cy", d => y(d[1])).attr("r", 7.3)
    .attr("fill","none").attr("stroke", BLUE).attr("stroke-width", 1.8);
}
function fit(g, xs, ys, x, y, w, curve) {
  const pts = xs.map((v,i)=>[v, ys[i]]);
  g.append("path").datum(pts).attr("fill","none").attr("stroke",RED).attr("stroke-width",w)
    .attr("d", d3.line().x(d=>x(d[0])).y(d=>y(d[1])).curve(curve || d3.curveLinear));
}
function diag(g, x, y) {
  const dom = x.domain();
  g.append("line").attr("x1", x(dom[0])).attr("y1", y(dom[0])).attr("x2", x(dom[1])).attr("y2", y(dom[1]))
    .attr("stroke", INK).attr("stroke-width", 1.6).attr("stroke-dasharray","12,6");
}
const probFmt = d => d === 0 ? "0" : d3.format(".1f")(d);
const atOne = rows => rows.map(d => [d[0], 1 + d[1]]);

// Panel (a)
{
  const x = d3.scaleLinear().domain([3.8, 36.07]).range([96.7, 640]);
  const y = d3.scaleLinear().domain([3.8, 36.14]).range([555, 10]);
  const g = axes(x, y, weightTicks, weightTicks);
  rings(g, growthPts, x, y);
  diag(g, x, y);
  fit(g, growthFitX, growthFitY, x, y, 4.5);
  label("(a)", 0, 26);
  titleX([["Body weight ("],["t",1],[") (kg)"]], 368, 625);
  titleY([["Body weight ("],["t",1],["+1) (kg)"]], 26, 291);
}
// Panel (b)
{
  const x = d3.scaleLinear().domain([1.92, 35.74]).range([812, 1362]);
  const y = d3.scaleLinear().domain([-0.061, 1.049]).range([555, 12]);
  const g = axes(x, y, weightTicks, probTicks, probFmt);
  rings(g, atOne(survTop.concat(survTopDense)), x, y);
  rings(g, survBottom.concat(survBottomDense), x, y);
  fit(g, survFitX, survFitY, x, y, 4, d3.curveMonotoneX);
  label("(b)", 716, 26);
  titleX([["Body weight (kg)"]], 1081, 625);
  titleY([["Survival"]], 741, 292);
}
// Panel (c)
{
  const x = d3.scaleLinear().domain([1.92, 35.74]).range([97, 647]);
  const y = d3.scaleLinear().domain([-0.061, 1.049]).range([1214, 671]);
  const g = axes(x, y, weightTicks, probTicks, probFmt);
  rings(g, atOne(fecTop.concat(fecTopDense)), x, y);
  rings(g, fecBottom.concat(fecBottomDense), x, y);
  fit(g, fecFitX, fecFitY, x, y, 4, d3.curveMonotoneX);
  label("(c)", 0, 687);
  titleX([["Body weight (kg)"]], 367, 1284);
  titleY([["Number of offspring"]], 26, 950);
}
// Panel (d)
{
  const x = d3.scaleLinear().domain([3.8, 36.07]).range([811.7, 1355]);
  const y = d3.scaleLinear().domain([3.8, 36.14]).range([1214, 669]);
  const g = axes(x, y, weightTicks, weightTicks);
  rings(g, offspringPts, x, y);
  diag(g, x, y);
  fit(g, offspringFitX, offspringFitY, x, y, 4.5);
  label("(d)", 716, 687);
  titleX([["Body weight ("],["t",1],[") (kg)"]], 1083, 1284);
  titleY([["Offspring body weight ("],["t",1],["+1) (kg)"]], 741, 951);
}
// Panel (e)
{
  const x = d3.scaleLinear().domain([191.1, 716.9]).range([97, 720]);
  const y = d3.scaleLinear().domain([-2.69, 2.37]).range([1748, 1323]);
  const g = axes(x, y, nTicks, logRTicks);
  const defs = svg.append("defs");
  const rg = defs.append("radialGradient").attr("id","ball").attr("cx","45%").attr("cy","45%").attr("r","60%");
  rg.append("stop").attr("offset","0%").attr("stop-color","#f4c4c4");
  rg.append("stop").attr("offset","55%").attr("stop-color","#dc6a6e");
  rg.append("stop").attr("offset","100%").attr("stop-color","#b52530");
  g.append("line").attr("x1", x.range()[0]).attr("x2", x.range()[1]).attr("y1", y(0)).attr("y2", y(0))
    .attr("stroke", INK).attr("stroke-width", 2).attr("stroke-dasharray","14,8");
  g.append("line").attr("x1", x(equilibriumN)).attr("x2", x(equilibriumN)).attr("y1", y(0)).attr("y2", y.range()[0])
    .attr("stroke", INK).attr("stroke-width", 2).attr("stroke-dasharray","14,8");
  fit(g, popN, popLogR, x, y, 2.2, d3.curveMonotoneX);
  g.append("circle").attr("cx", x(obsPoint.N)).attr("cy", y(obsPoint.logR)).attr("r", 9.5)
    .attr("fill","url(#ball)").attr("stroke","#a3141e").attr("stroke-width",1.5);
  label("(e)", 0, 1332);
  titleX([["N",1]], 408, 1807);
  titleY([["log"],["R",1]], 26, 1522);
}
</script>
</body></html>
